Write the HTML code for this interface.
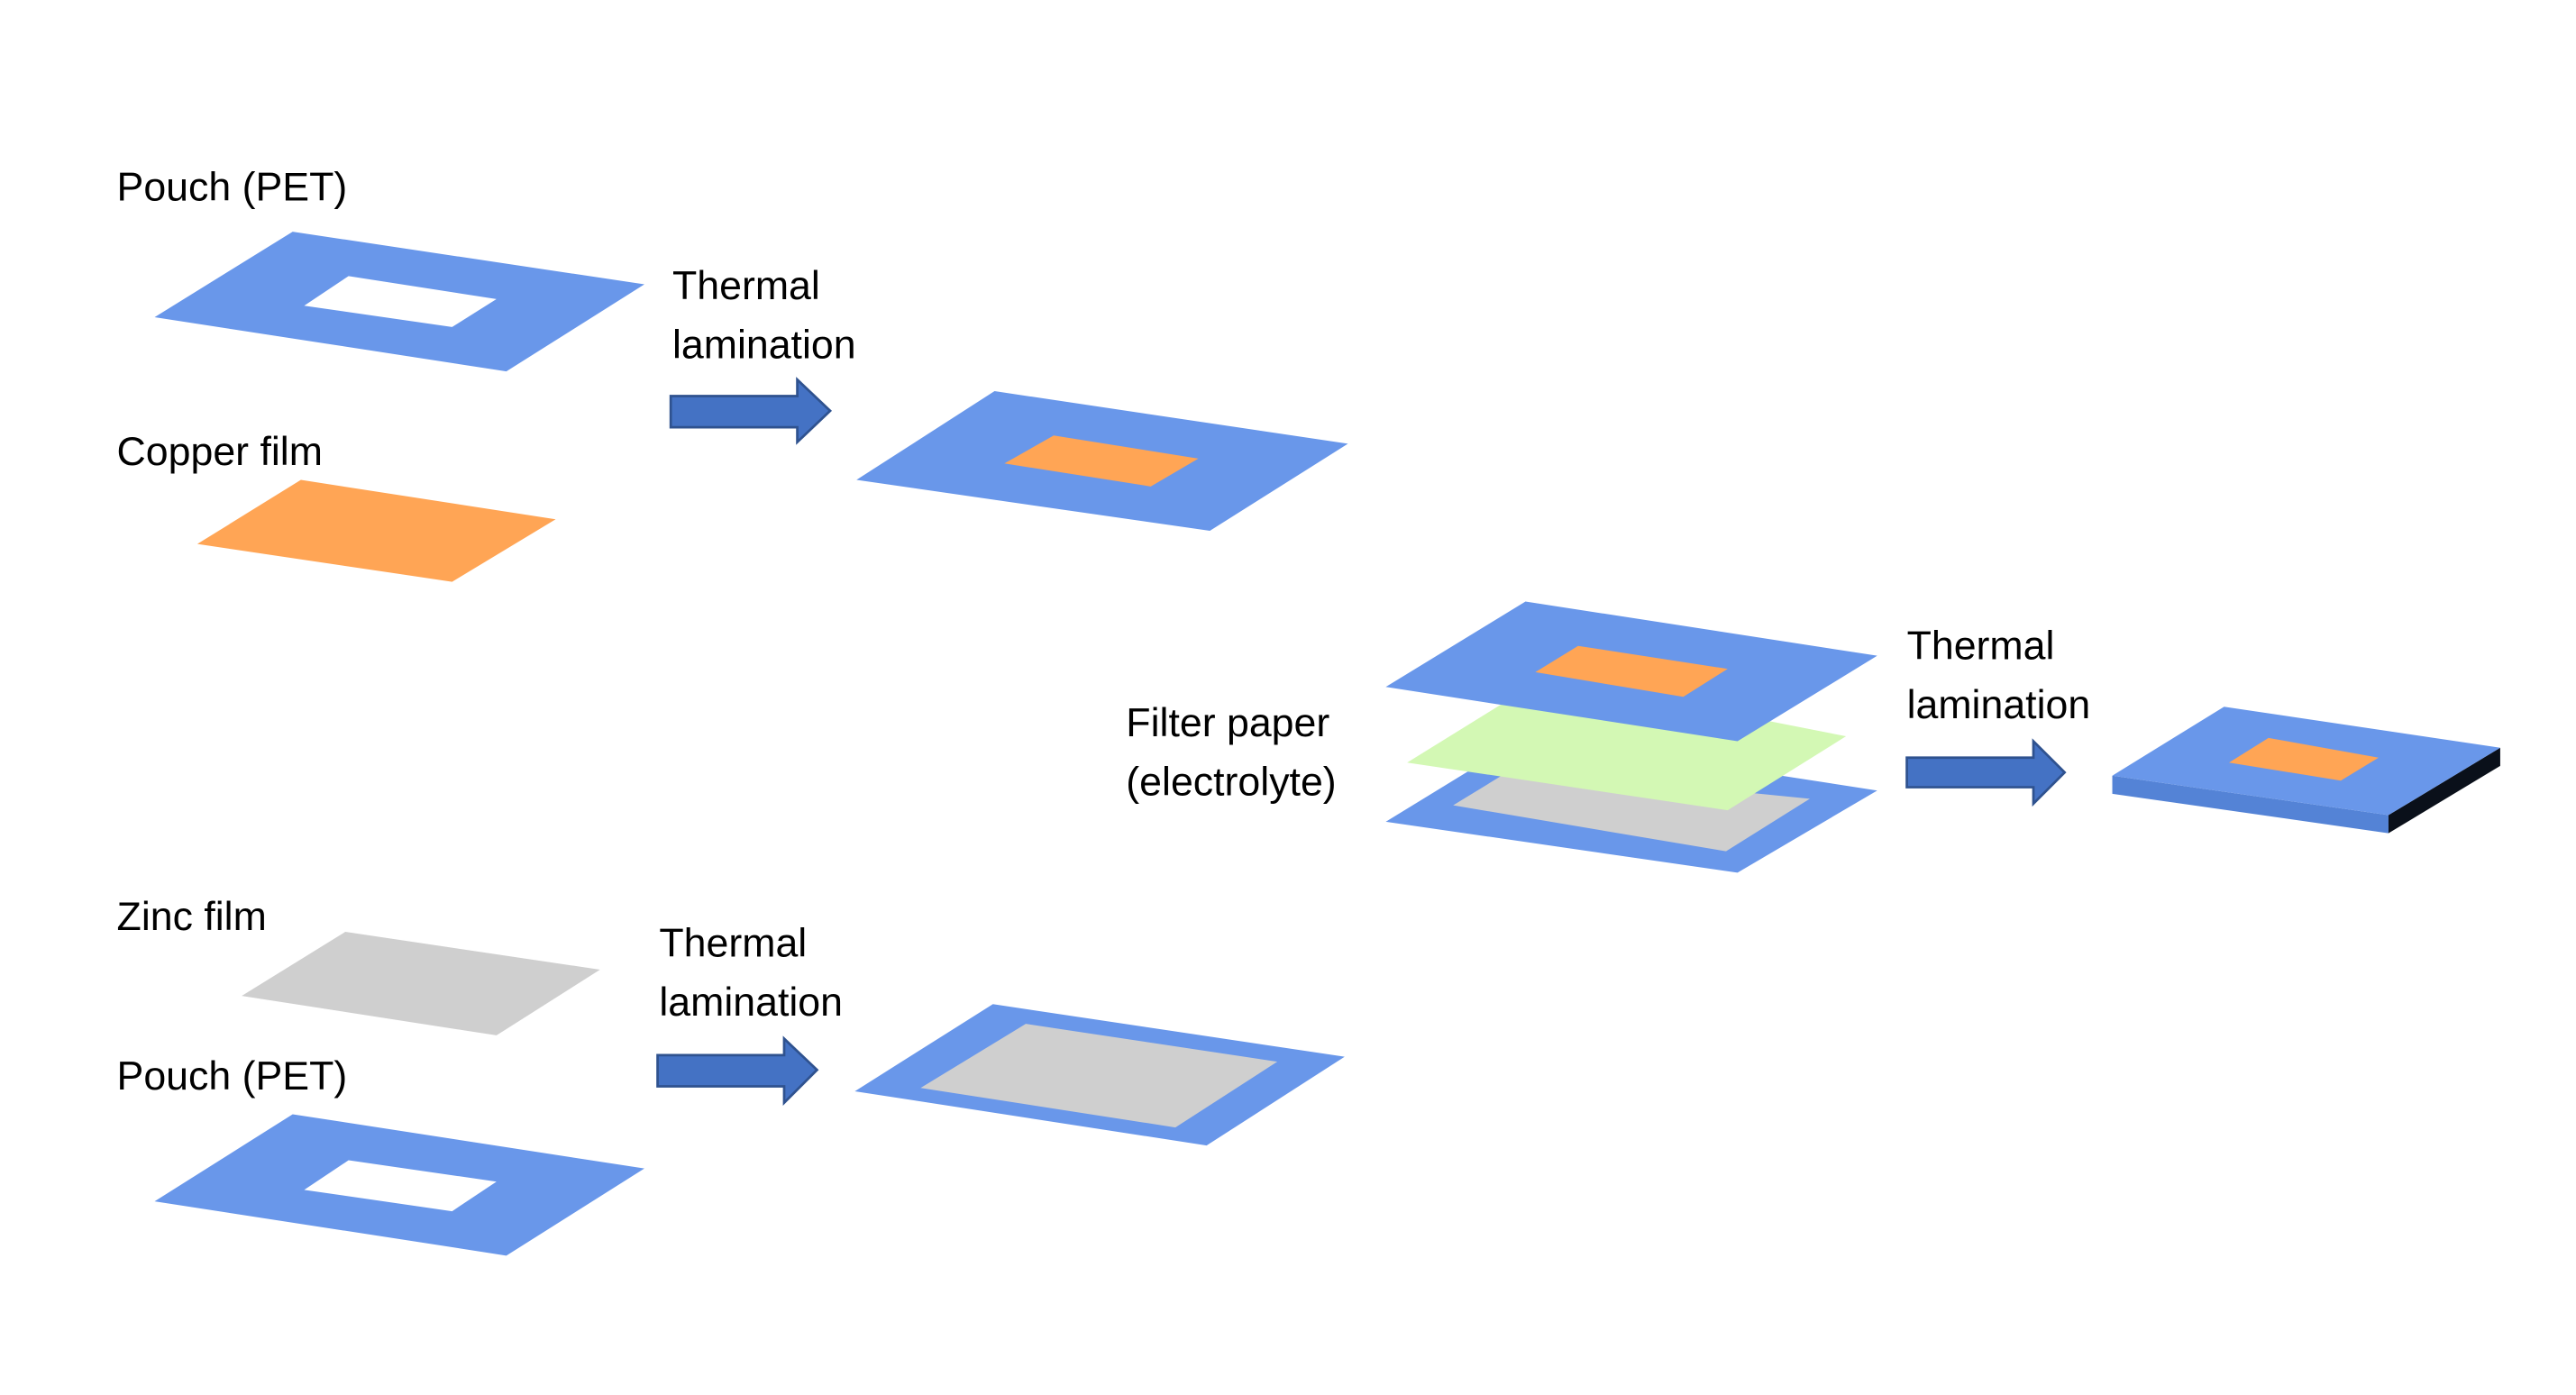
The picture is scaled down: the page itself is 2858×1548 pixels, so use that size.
<!DOCTYPE html>
<html><head><style>html,body{margin:0;padding:0;background:#fff}svg{display:block}</style></head>
<body>
<svg width="2858" height="1548" viewBox="0 0 1560 845" xmlns="http://www.w3.org/2000/svg" font-family="Liberation Sans, sans-serif" font-size="24.5" fill="#000">
<rect width="1560" height="845" fill="#fff"/>
<g transform="scale(0.9955)">
<!-- labels -->
<text x="71" y="122">Pouch (PET)</text>
<text x="71" y="283">Copper film</text>
<text x="71" y="566">Zinc film</text>
<text x="71" y="663">Pouch (PET)</text>
<text x="409" y="182">Thermal</text>
<text x="409" y="218">lamination</text>
<text x="401" y="582">Thermal</text>
<text x="401" y="618">lamination</text>
<text x="1160" y="401">Thermal</text>
<text x="1160" y="437">lamination</text>
<text x="685" y="448">Filter paper</text>
<text x="685" y="484">(electrolyte)</text>
<!-- pouch 1 -->
<path d="M94,193 L178,141 L392,173 L308,226 Z M185,186 L275,199 L302,182 L212,168 Z" fill="#6997EA" fill-rule="evenodd"/>
<polygon points="120,331 183,292 338,316 275,354" fill="#FFA555"/>
<!-- arrows -->
<g fill="#4472C4" stroke="#2F528F" stroke-width="1.5">
<polygon points="408,241 485,241 485,231 505,250 485,269 485,260 408,260"/>
<polygon points="400,642 477,642 477,632 497,651 477,671 477,661 400,661"/>
<polygon points="1160,461 1237,461 1237,451 1256,470 1237,489 1237,479 1160,479"/>
</g>
<!-- result 1 -->
<polygon points="521,292 605,238 820,270 736,323" fill="#6997EA"/>
<polygon points="611,282 641,265 729,279 700,296" fill="#FFA555"/>
<!-- stack -->
<polygon points="843,500 928,448 1142,481 1057,531" fill="#6997EA"/>
<polygon points="884,490 920,468 1101,486 1050,518" fill="#CFCFCF"/>
<polygon points="856,464 940,412 1123,448 1051,493" fill="#D3F8B4"/>
<polygon points="843,418 928,366 1142,399 1057,451" fill="#6997EA"/>
<polygon points="934,409 960,393 1051,407 1024,424" fill="#FFA555"/>
<!-- final -->
<polygon points="1285,472 1453,496 1453,507 1285,483" fill="#5483D6"/>
<polygon points="1453,496 1521,455 1521,466 1453,507" fill="#0A101A"/>
<polygon points="1285,472 1353,430 1521,455 1453,496" fill="#6997EA"/>
<polygon points="1356,464 1380,449 1447,461 1424,475" fill="#FFA555"/>
<!-- zinc -->
<polygon points="147,606 210,567 365,590 302,630" fill="#CFCFCF"/>
<path d="M94,731 L178,678 L392,711 L308,764 Z M185,724 L275,737 L302,719 L212,706 Z" fill="#6997EA" fill-rule="evenodd"/>
<!-- result 3 -->
<polygon points="520,664 604,611 818,643 734,697" fill="#6997EA"/>
<polygon points="560,662 624,623 777,646 715,686" fill="#CFCFCF"/>
</g>
</svg>
</body></html>
